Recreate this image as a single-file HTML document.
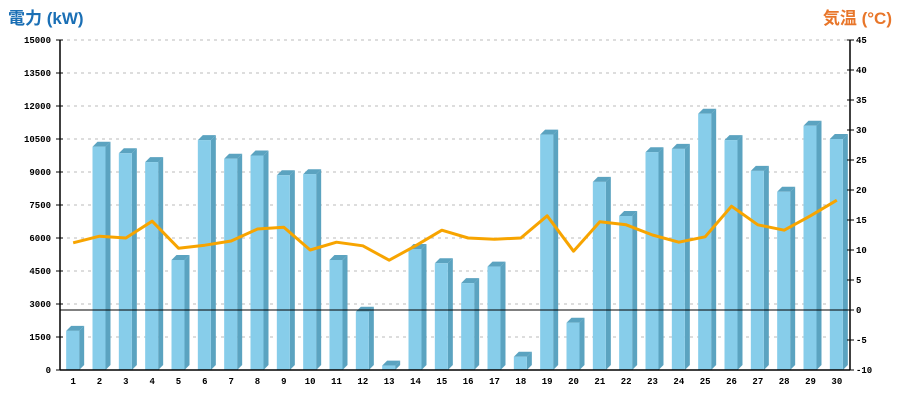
<!DOCTYPE html>
<html><head><meta charset="utf-8"><style>
body{margin:0;background:#fff;}
svg text{font-family:"Liberation Mono","DejaVu Sans Mono",monospace;font-size:9px;font-weight:bold;fill:#000;}
.t{font-family:"Liberation Sans","Noto Sans CJK JP",sans-serif;font-size:17px;font-weight:bold;}
</style></head><body>
<svg id="c" width="900" height="400" xmlns="http://www.w3.org/2000/svg">
<text class="t" x="8" y="24" style="fill:#1a6fb5">電力 (kW)</text>
<text class="t" x="892" y="24" text-anchor="end" style="fill:#e8762a">気温 (°C)</text>
<g id="grid"></g><g id="bars"></g><g id="line"></g><g id="axes"></g>
</svg>
<script>
const days=[1,2,3,4,5,6,7,8,9,10,11,12,13,14,15,16,17,18,19,20,21,22,23,24,25,26,27,28,29,30];
const power=[1780,10150,9850,9450,5000,10450,9600,9750,8850,8900,5000,2650,200,5500,4850,3950,4700,600,10700,2150,8550,7000,9900,10050,11650,10450,9050,8100,11100,10500];
const temp=[11.2,12.3,12,14.8,10.3,10.8,11.5,13.5,13.8,10,11.3,10.7,8.3,10.7,13.3,12,11.8,12,15.7,9.8,14.7,14.2,12.5,11.3,12.2,17.3,14.2,13.3,15.7,18.3];
const leftTicks=[0,1500,3000,4500,6000,7500,9000,10500,12000,13500,15000];
const rightTicks=[-10,-5,0,5,10,15,20,25,30,35,40,45];
const NS="http://www.w3.org/2000/svg";
const L=60,R=850,T=40,B=370,bw=(R-L)/days.length;
const yL=v=>B-(v/15000)*(B-T);
const yR=v=>B-((v+10)/55)*(B-T);
const xC=i=>L+bw*(i+0.5);
function mk(p,tag,a){const e=document.createElementNS(NS,tag);for(const k in a)e.setAttribute(k,a[k]);p.appendChild(e);return e;}
const g=document.getElementById('grid'),bg=document.getElementById('bars'),lg=document.getElementById('line'),ag=document.getElementById('axes');
leftTicks.forEach(v=>{if(v>0){const e=mk(g,'line',{x1:L,x2:R,y1:yL(v),y2:yL(v),stroke:'#bbb','stroke-dasharray':'3,4'});

}
const t=mk(ag,'text',{x:L-9,y:yL(v)+3,'text-anchor':'end'});t.textContent=v;


mk(ag,'line',{x1:L-4,x2:L+3,y1:yL(v),y2:yL(v),stroke:'#000'});});
rightTicks.forEach(v=>{const t=mk(ag,'text',{x:R+6,y:yR(v)+3});t.textContent=v;


mk(ag,'line',{x1:R-3,x2:R+4,y1:yR(v),y2:yR(v),stroke:'#000'});});
days.forEach((d,i)=>{const x=xC(i)-7,y=yL(power[i]),w=13,dx=5,dy=5;
const grp=mk(bg,'g',{});


mk(grp,'polygon',{points:`${x+w},${y} ${x+w+dx},${y-dy} ${x+w+dx},${B-dy} ${x+w},${B}`,fill:'#5ba3c0'});
mk(grp,'polygon',{points:`${x},${y} ${x+dx},${y-dy} ${x+w+dx},${y-dy} ${x+w},${y}`,fill:'#5ba3c0'});
mk(grp,'rect',{x:x,y:y,width:w,height:B-y,fill:'#87cdea'});
const t=mk(ag,'text',{x:xC(i),y:384,'text-anchor':'middle'});t.textContent=d;

});
const ln=mk(lg,'polyline',{points:temp.map((v,i)=>xC(i)+','+yR(v)).join(' '),fill:'none',stroke:'#f7a400','stroke-width':3,'stroke-linejoin':'round'});


mk(ag,'line',{x1:L,x2:R,y1:yR(0),y2:yR(0),stroke:'#000'});
mk(ag,'line',{x1:L,x2:L,y1:T,y2:B,stroke:'#000','stroke-width':1.5});
mk(ag,'line',{x1:R,x2:R,y1:T,y2:B,stroke:'#000','stroke-width':1.5});
mk(ag,'line',{x1:L,x2:R,y1:B,y2:B,stroke:'#000','stroke-width':1.5});
</script>
</body></html>
